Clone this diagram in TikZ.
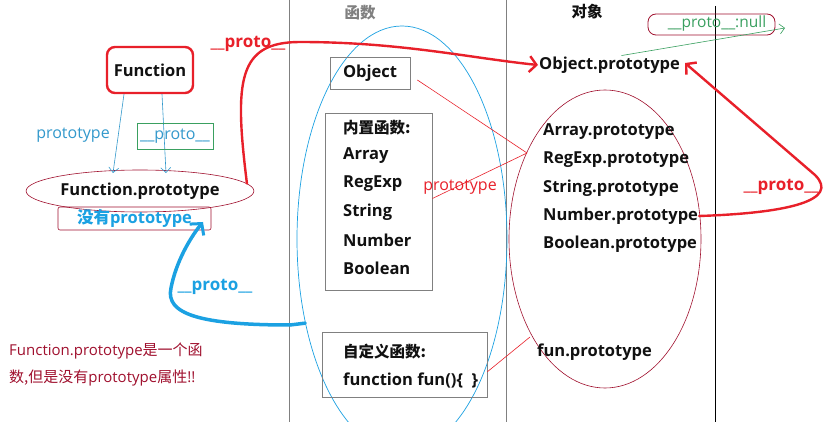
\documentclass[tikz,border=0pt]{standalone}
\usepackage{fontspec}
\setmainfont{Open Sans}
\newfontfamily\cjk{Noto Sans CJK SC}
\usetikzlibrary{arrows.meta,shapes.geometric}
\definecolor{ered}{HTML}{E8202A}
\definecolor{dred}{HTML}{A0102E}
\definecolor{tblue}{HTML}{1BA1E2}
\definecolor{lblue}{HTML}{3399CC}
\definecolor{egreen}{HTML}{3AA060}
\definecolor{egray}{HTML}{808080}
\definecolor{txt}{HTML}{111111}
\tikzset{
  bt/.style={font=\fontsize{16.5}{18}\selectfont\bfseries, text=txt, inner sep=1pt},
  bcjk/.style={font=\cjk\fontsize{15.5}{18}\selectfont\bfseries, text=txt, inner sep=1pt},
  lab/.style={font=\fontsize{16}{18}\selectfont},
  blab/.style={font=\fontsize{17}{19}\selectfont\bfseries},
  graybox/.style={draw=egray, line width=0.8pt, inner sep=0pt},
  thickred/.style={draw=ered, line width=2.4pt, line cap=round, line join=round},
  thinred/.style={draw=ered, line width=0.6pt},
  redhead/.style={-{Straight Barb[length=7pt,width=16pt,line width=2.4pt]}},
  bluehead/.style={-{Straight Barb[length=8pt,width=18pt,line width=3pt]}},
  thinhead/.style={-{Straight Barb[length=5pt,width=10pt,line width=0.6pt]}},
}
\begin{document}
\begin{tikzpicture}[x=1pt,y=-1pt]
\useasboundingbox (0,0) rectangle (828,422);
\clip (0,0) rectangle (828,422);
\fill[white] (0,0) rectangle (828,422);

% column separators
\draw[egray, line width=0.8pt] (289,0) -- (289,422);
\draw[egray, line width=0.8pt] (506,0) -- (506,422);
\draw[black, line width=1pt] (715,6) -- (715,422);

% titles
\node[bcjk, text=egray] (t1) at (360,13) {函数};
\node[bcjk] (t2) at (587,12) {对象};

% left side
\node[draw=ered, line width=2.4pt, rounded corners=8pt, minimum width=86pt, minimum height=46pt, bt] (func) at (150,70) {Function};
\node[draw=dred, line width=0.6pt, ellipse, minimum width=198pt, minimum height=42pt, inner sep=0pt, bt] (fp) at (140,191) {Function.prototype};
\node[draw=dred, line width=0.6pt, rounded corners=2pt, minimum width=153pt, minimum height=23pt, inner sep=0pt, font=\fontsize{16.5}{18}\selectfont\bfseries, text=tblue] (nop) at (134.5,218.5) {{\cjk 没有}prototype};

\coordinate (a1) at (113,173);
\coordinate (a2) at (166,173);
\draw[lblue, line width=0.6pt, thinhead] ([xshift=-26pt]func.south) -- (a1);
\draw[lblue, line width=0.6pt, thinhead] ([xshift=12pt]func.south) -- (a2);
\node[text=lblue, lab] (lp) at (73,135) {prototype};
\node[draw=egreen, line width=0.6pt, minimum width=76pt, minimum height=26pt, inner sep=0pt, text=lblue, lab] (gp) at (175,136) {\_\_proto\_\_};

% middle column
\node[draw=tblue, line width=0.7pt, ellipse, minimum width=210pt, minimum height=426pt, inner sep=0pt] (fnell) at (402,239) {};
\node[graybox, minimum width=80pt, minimum height=32pt, bt] (obj) at (370,73) {Object};
\node[graybox, minimum width=107pt, minimum height=177pt] (builtin) at (378.5,201.5) {};
\node[bcjk, anchor=west] (b0) at (342,128) {内置函数:};
\node[bt, anchor=west] (b1) at (342,156) {Array};
\node[bt, anchor=west] (b2) at (342,184) {RegExp};
\node[bt, anchor=west] (b3) at (342,212) {String};
\node[bt, anchor=west] (b4) at (342,240) {Number};
\node[bt, anchor=west] (b5) at (342,268) {Boolean};
\node[graybox, minimum width=165pt, minimum height=65pt] (custom) at (404.5,364.5) {};
\node[bcjk, anchor=west] (c0) at (342,352) {自定义函数:};
\node[bt, anchor=west] (c1) at (342,380) {function fun()\{\ \ \}};

% right column
\node[draw=dred, line width=0.6pt, ellipse, minimum width=192pt, minimum height=298pt, inner sep=0pt] (pell) at (605,239) {};
\node[bt, anchor=west] (op) at (538,65) {Object.prototype};
\node[bt, anchor=west] (p1) at (542,132) {Array.prototype};
\node[bt, anchor=west] (p2) at (542,160) {RegExp.prototype};
\node[bt, anchor=west] (p3) at (542,188) {String.prototype};
\node[bt, anchor=west] (p4) at (542,216) {Number.prototype};
\node[bt, anchor=west] (p5) at (542,244) {Boolean.prototype};
\node[bt, anchor=west] (fpp) at (536,352) {fun.prototype};

\node[draw=dred, line width=0.8pt, rounded corners=8pt, minimum width=127pt, minimum height=21pt, inner sep=0pt] (null) at (711.5,24.5) {};
\node[text=egreen, font=\fontsize{15.5}{17}\selectfont, inner sep=0pt] (nulltxt) at (717,23.5) {\_\_proto\_\_:null};
\coordinate (nullend) at (785,28);
\draw[egreen, line width=0.6pt, thinhead] ([xshift=12pt]op.north) -- (nullend);

% prototype lines (red thin)
\coordinate (cv) at (527,153);
\coordinate (cv2) at (530,337);
\draw[thinred] ([xshift=7pt,yshift=-7pt]obj.east) -- (cv);
\draw[thinred] ([yshift=3pt]builtin.east) -- (cv);
\draw[thinred] (custom.-5) -- (cv2);
\node[text=ered, lab] (lp2) at (460,187) {prototype};

% red __proto__ from Function.prototype to Object.prototype
\draw[thickred, redhead] (fp.4) .. controls (234,80) and (238,42) .. (300,42) .. controls (400,42) and (470,58) .. (op.west);
\node[text=ered, blab] (lr1) at (248,44) {\_\_proto\_\_};

% red __proto__ from Number.prototype to Object.prototype
\draw[thickred, redhead] (p4.east) .. controls (790,213) and (840,200) .. (815,175) -- ([xshift=4pt,yshift=2pt]op.east);
\node[text=ered, blab] (lr2) at (781,187) {\_\_proto\_\_};

% blue __proto__ from functions to Function.prototype
\coordinate (bluetip) at (203,222);
\draw[tblue, line width=3.5pt, line cap=round, bluehead] (fnell.221) -- (290,325) .. controls (200,325) and (165,314) .. (171,288) .. controls (176,262) and (190,238) .. (bluetip);
\node[text=tblue, blab] (lb) at (215,287) {\_\_proto\_\_};

% note
\node[anchor=west, text=dred, font=\fontsize{15}{17}\selectfont, inner sep=0pt] (n1) at (9,351) {Function.prototype{\cjk 是一个函}};
\node[anchor=west, text=dred, font=\fontsize{15}{17}\selectfont, inner sep=0pt] (n2) at (9,378) {{\cjk 数,但是没有}prototype{\cjk 属性}!!};
\end{tikzpicture}
\end{document}
